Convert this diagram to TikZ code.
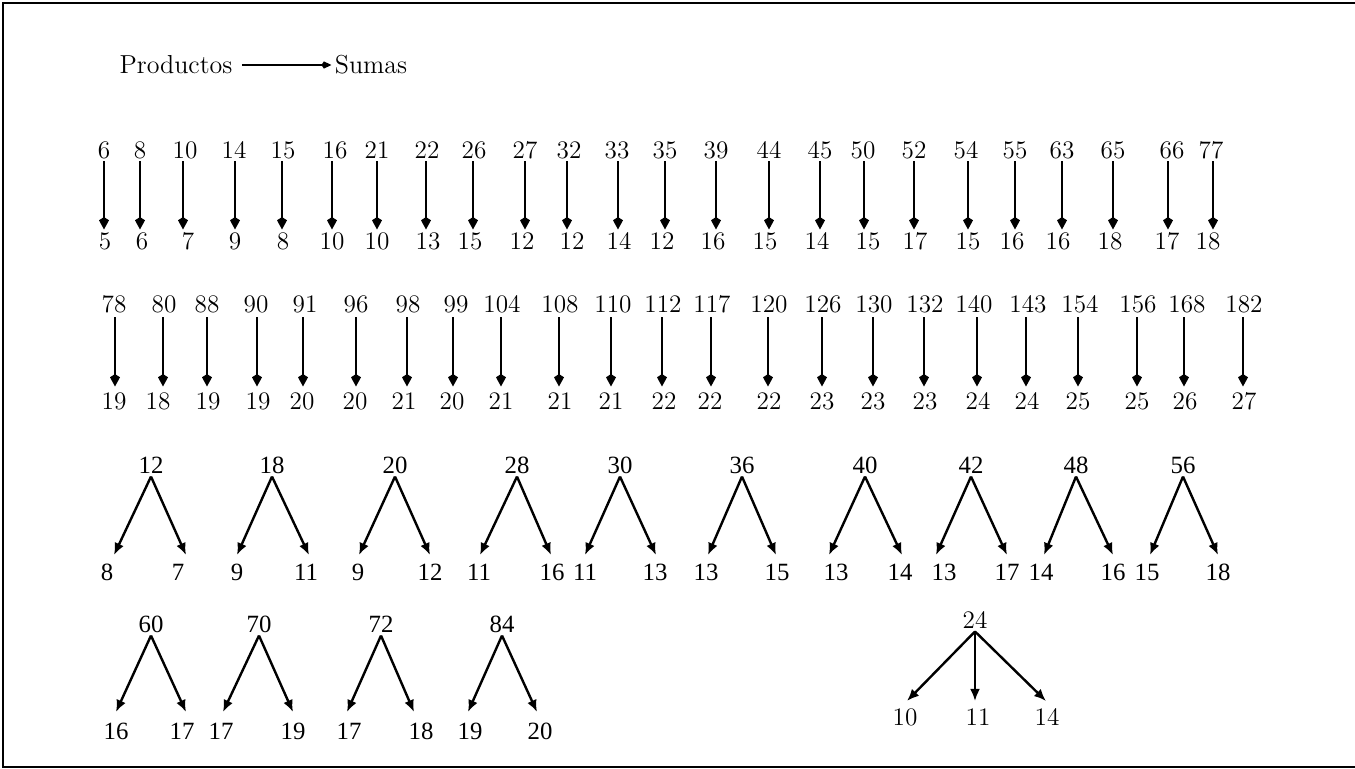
\documentclass[tikz,border=0pt]{standalone}
\usepackage{fontspec}
\newfontfamily\treefont{Liberation Serif}
\usetikzlibrary{arrows.meta}
\begin{document}
\begin{tikzpicture}[x=0.5pt,y=-0.5pt,
  lbl/.style={inner sep=1.5pt, text height=8.1pt, text depth=0pt, font=\fontsize{12.6}{14}\selectfont},
  hdr/.style={inner sep=1.5pt, font=\fontsize{13}{15}\selectfont},
  tlbl/.style={inner sep=1.5pt, text height=8.2pt, text depth=0pt, font=\treefont\fontsize{12.4}{14}\selectfont},
  rowarrow/.style={line width=1.1pt, -{Kite[length=6.2pt,width=5pt,inset=1.6pt]}},
  treearrow/.style={line width=1.2pt, -{Latex[length=6pt,width=5pt]}},
  hdrarrow/.style={line width=0.7pt, -{Kite[length=5pt,width=3.6pt,inset=1.2pt]}},
  frame/.style={line width=1pt}
]
\useasboundingbox (0,0) rectangle (1355,769);
\draw[frame] (1355,3) -- (3,3) -- (3,767) -- (1355,767);

% header
\node[hdr] (prod) at (176,65) {Productos};
\node[hdr] (sumas) at (371,65) {Sumas};
\draw[hdrarrow, shorten <=3pt] (prod.east) -- (sumas.west);

% row 1
\foreach \i/\tx/\toplab/\ax/\bx/\botlab in {
  1/104/6/104/105/5, 2/140/8/140/142/6, 3/185/10/183/188/7, 4/234/14/235/235/9,
  5/283/15/282/283/8, 6/335/16/332/332/10, 7/377/21/377/377/10, 8/427/22/426/428/13,
  9/474/26/473/470/15, 10/525/27/525/522/12, 11/569/32/567/572/12, 12/617/33/618/619/14,
  13/665/35/665/662/12, 14/716/39/716/713/16, 15/769/44/769/765/15, 16/820/45/820/817/14,
  17/863/50/864/868/15, 18/914/52/914/915/17, 19/966/54/968/968/15, 20/1015/55/1015/1012/16,
  21/1062/63/1062/1058/16, 22/1113/65/1113/1110/18, 23/1172/66/1168/1167/17, 24/1211/77/1213/1208/18} {
  \node[lbl] (ap\i) at (\tx,150) {\toplab};
  \node[lbl] (as\i) at (\bx,241) {\botlab};
  \coordinate (ax\i) at (\ax,0);
  \draw[rowarrow] (ap\i.south -| ax\i) -- (as\i.north -| ax\i);
}

% row 2
\foreach \i/\tx/\toplab/\ax/\bx/\botlab in {
  1/114/78/115/114/19, 2/164/80/163/158/18, 3/207/88/207/208/19, 4/256/90/257/258/19,
  5/305/91/303/302/20, 6/356/96/356/355/20, 7/408/98/407/404/21, 8/456/99/453/452/20,
  9/502/104/501/501/21, 10/560/108/559/560/21, 11/613/110/611/611/21, 12/663/112/662/664/22,
  13/712/117/711/710/22, 14/769/120/768/769/22, 15/823/126/822/822/23, 16/874/130/873/873/23,
  17/925/132/924/925/23, 18/974/140/977/978/24, 19/1028/143/1026/1027/24, 20/1080/154/1078/1078/25,
  21/1138/156/1137/1137/25, 22/1187/168/1184/1185/26, 23/1244/182/1243/1244/27} {
  \node[lbl] (bp\i) at (\tx,304) {\toplab};
  \node[lbl] (bs\i) at (\bx,401) {\botlab};
  \coordinate (bx\i) at (\ax,0);
  \draw[rowarrow, shorten <=1pt, shorten >=1.5pt] (bp\i.south -| bx\i) -- (bs\i.north -| bx\i);
}

% trees, row 3
\foreach \i/\tx/\toplab/\lx/\lftlab/\ltip/\rx/\rgtlab/\rtip in {
  1/151/12/107/8/114/178/7/186, 2/272/18/237/9/237/306/11/309,
  3/395/20/358/9/359/430/12/430, 4/517/28/479/11/480/552/16/551,
  5/620/30/585/11/585/655/13/656, 6/742/36/706/13/708/777/15/776,
  7/865/40/836/13/829/900/14/902, 8/971/42/944/13/936/1007/17/1007,
  9/1076/48/1041/14/1044/1113/16/1113, 10/1183/56/1147/15/1150/1218/18/1218} {
  \node[tlbl] (cA\i) at (\tx,465) {\toplab};
  \node[tlbl] (cL\i) at (\lx,572) {\lftlab};
  \node[tlbl] (cR\i) at (\rx,572) {\rgtlab};
  \coordinate (cLt\i) at (\ltip,555);
  \coordinate (cRt\i) at (\rtip,555);
  \draw[treearrow] (cA\i.south) -- (cLt\i);
  \draw[treearrow] (cA\i.south) -- (cRt\i);
}

% trees, row 4
\foreach \i/\tx/\toplab/\lx/\lftlab/\ltip/\rx/\rgtlab/\rtip in {
  1/151/60/116/16/116/182/17/186, 2/259/70/221/17/223/293/19/293,
  3/381/72/349/17/347/421/18/414, 4/502/84/470/19/468/540/20/537} {
  \node[tlbl] (dA\i) at (\tx,624) {\toplab};
  \node[tlbl] (dL\i) at (\lx,731) {\lftlab};
  \node[tlbl] (dR\i) at (\rx,731) {\rgtlab};
  \coordinate (dLt\i) at (\ltip,712);
  \coordinate (dRt\i) at (\rtip,712);
  \draw[treearrow] (dA\i.south) -- (dLt\i);
  \draw[treearrow] (dA\i.south) -- (dRt\i);
}

% tree of 24
\node[lbl] (q) at (975,620) {24};
\node[lbl] (q1) at (905,717) {10};
\node[lbl] (q2) at (978,717) {11};
\node[lbl] (q3) at (1047,717) {14};
\coordinate (qt1) at (907,701);
\coordinate (qt2) at (975,701);
\coordinate (qt3) at (1046,701);
\draw[treearrow] (q.south) -- (qt1);
\draw[treearrow] (q.south) -- (qt2);
\draw[treearrow] (q.south) -- (qt3);
\end{tikzpicture}
\end{document}
